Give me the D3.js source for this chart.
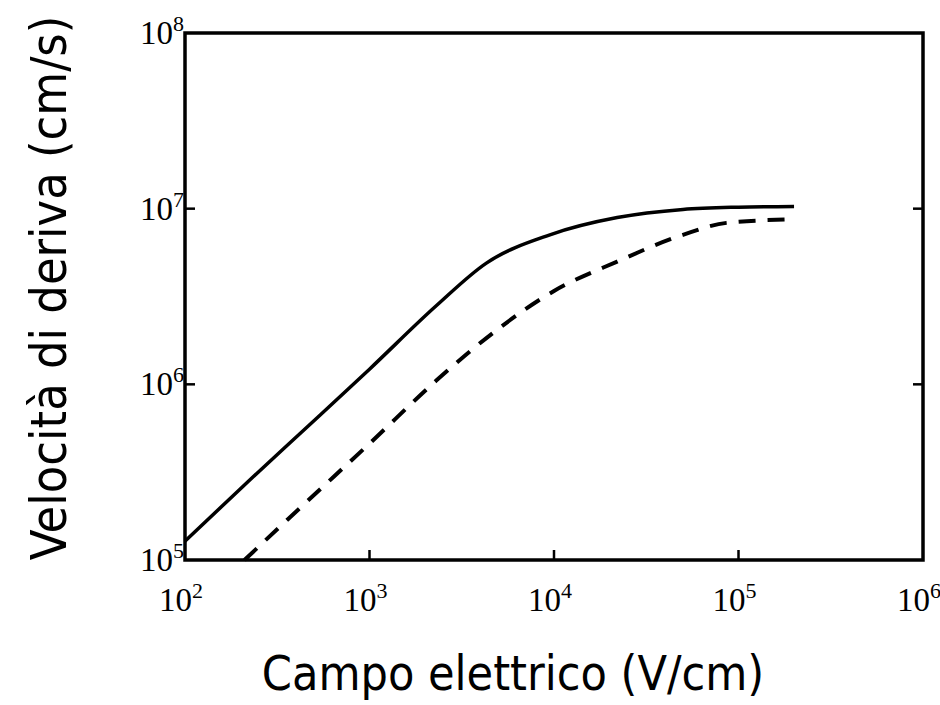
<!DOCTYPE html>
<html>
<head>
<meta charset="utf-8">
<script src="https://cdn.jsdelivr.net/npm/d3@7"></script>
<style>
  html, body { margin: 0; padding: 0; background: #fff; }
  svg { display: block; }
</style>
</head>
<body>
<script>
// ---- data ----
const xTickValues = [1e2, 1e3, 1e4, 1e5, 1e6];
const xTickExponents = ["2", "3", "4", "5", "6"];
const yTickValues = [1e5, 1e6, 1e7, 1e8];
const yTickExponents = ["5", "6", "7", "8"];

// solid curve: electric field (V/cm), drift velocity (cm/s)
const solidField    = [100, 220, 500, 1000, 2300, 4300, 9500, 22000, 50000, 100000, 200000];
const solidVelocity = [1.28e5, 2.8e5, 6.2e5, 1.22e6, 2.8e6, 4.9e6, 7.1e6, 8.9e6, 9.9e6, 1.02e7, 1.03e7];

// dashed curve
const dashedField    = [210, 360, 640, 1000, 2300, 4900, 10000, 22000, 50000, 86000, 200000];
const dashedVelocity = [1.0e5, 1.7e5, 2.98e5, 4.6e5, 1.05e6, 2.04e6, 3.4e6, 5.0e6, 7.1e6, 8.3e6, 8.7e6];

const xTitle = "Campo elettrico (V/cm)";
const yTitle = "Velocità di deriva (cm/s)";

(function () {
// ---- layout ----
const W = 940, H = 705;
const mL = 185, mR = 923, mT = 33, mB = 560;

const svg = d3.select("body").append("svg").attr("width", W).attr("height", H);

const x = d3.scaleLog().domain([1e2, 1e6]).range([mL, mR]);
const y = d3.scaleLog().domain([1e5, 1e8]).range([mB, mT]);

// frame
svg.append("rect")
  .attr("x", mL).attr("y", mT)
  .attr("width", mR - mL).attr("height", mB - mT)
  .attr("fill", "none").attr("stroke", "#000").attr("stroke-width", 3.5);

// inner ticks
const tickLen = 10;
const innerX = xTickValues.slice(1, -1);
const innerY = yTickValues.slice(1, -1);
svg.selectAll(".xt").data(innerX).enter().append("line")
  .attr("x1", d => x(d)).attr("x2", d => x(d))
  .attr("y1", mB).attr("y2", mB - tickLen)
  .attr("stroke", "#000").attr("stroke-width", 2.5);
svg.selectAll(".ylt").data(innerY).enter().append("line")
  .attr("x1", mL).attr("x2", mL + tickLen)
  .attr("y1", d => y(d)).attr("y2", d => y(d))
  .attr("stroke", "#000").attr("stroke-width", 2.5);
svg.selectAll(".yrt").data(innerY).enter().append("line")
  .attr("x1", mR).attr("x2", mR - tickLen)
  .attr("y1", d => y(d)).attr("y2", d => y(d))
  .attr("stroke", "#000").attr("stroke-width", 2.5);

// tick labels
const serif = "'Liberation Serif', 'DejaVu Serif', serif";
const xl = svg.selectAll(".xl").data(xTickValues).enter().append("text")
  .attr("x", d => x(d) - 4).attr("y", 611)
  .attr("text-anchor", "middle")
  .attr("font-family", serif).attr("font-size", 33);
xl.append("tspan").text("10");
xl.append("tspan").attr("dy", -13).attr("font-size", 22).text((d, i) => xTickExponents[i]);

const yl = svg.selectAll(".yl").data(yTickValues).enter().append("text")
  .attr("x", mL - 1).attr("y", d => y(d) + 11)
  .attr("text-anchor", "end")
  .attr("font-family", serif).attr("font-size", 33);
yl.append("tspan").text("10");
yl.append("tspan").attr("dy", -13).attr("font-size", 22).text((d, i) => yTickExponents[i]);

// curves
const line = d3.line().x(d => x(d[0])).y(d => y(d[1])).curve(d3.curveMonotoneX);
const solid = solidField.map((f, i) => [f, solidVelocity[i]]);
const dashed = dashedField.map((f, i) => [f, dashedVelocity[i]]);

svg.append("path").datum(solid).attr("d", line)
  .attr("fill", "none").attr("stroke", "#000").attr("stroke-width", 3.5)
  .attr("stroke-linejoin", "round");
svg.append("path").datum(dashed).attr("d", line)
  .attr("fill", "none").attr("stroke", "#000").attr("stroke-width", 4)
  .attr("stroke-dasharray", "17,12");

// axis titles
const sans = "'DejaVu Sans Condensed', 'DejaVu Sans', sans-serif";
svg.append("text").attr("x", 513).attr("y", 690)
  .attr("text-anchor", "middle").attr("font-family", sans).attr("font-size", 48)
  .text(xTitle);
svg.append("text").attr("transform", "translate(66,288) rotate(-90)")
  .attr("text-anchor", "middle").attr("font-family", sans).attr("font-size", 50)
  .text(yTitle);
})();
</script>
</body>
</html>
